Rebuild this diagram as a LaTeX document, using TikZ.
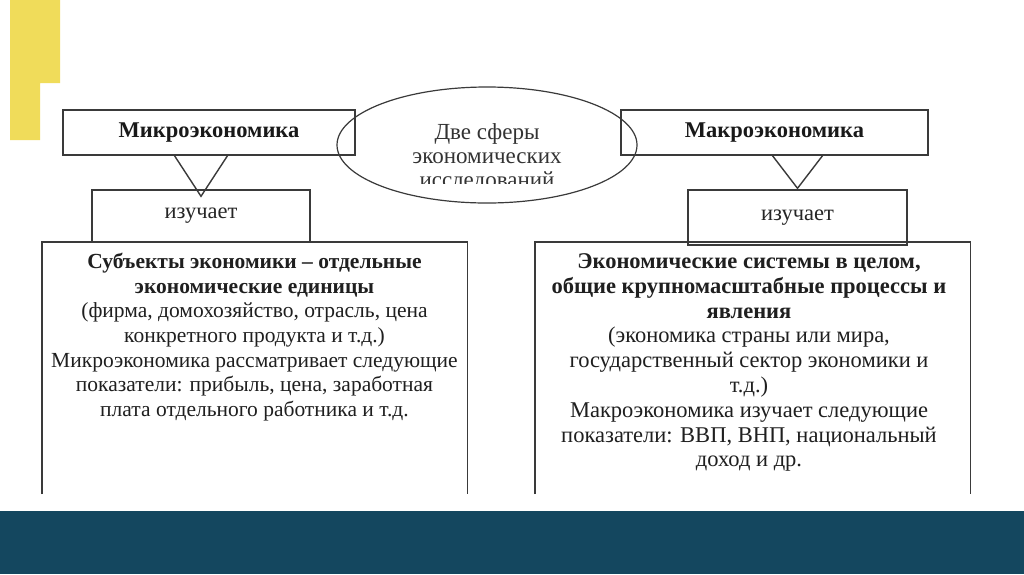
\documentclass[tikz,border=0pt]{standalone}
\usepackage{fontspec}
\setmainfont{Liberation Serif}
\usetikzlibrary{shapes.geometric,positioning,calc}

\definecolor{bandblue}{HTML}{14475F}
\definecolor{slideyellow}{HTML}{F0DC5A}
\definecolor{framegray}{HTML}{3A3A3A}

\tikzset{
    framebox/.style={draw=framegray, line width=1.4pt, rectangle, inner sep=0pt},
    headbox/.style={framebox, minimum height=45pt, text=black!90,
                    font=\fontsize{22.5}{26}\selectfont\bfseries},
    studybox/.style={framebox, minimum width=218pt, text=black!85,
                     font=\fontsize{22.5}{26}\selectfont},
    bodytext/.style={inner sep=0pt, align=center, text=black!88,
                     font=\fontsize{21.5}{24.7}\selectfont},
}

\begin{document}
\begin{tikzpicture}[x=1pt, y=-1pt]
    \useasboundingbox (0,0) rectangle (1024,574);
    \fill[white] (0,0) rectangle (1024,574);
    \fill[slideyellow] (10,0) -- (60,0) -- (60,83) -- (40,83) -- (40,140) -- (10,140) -- cycle;
    \fill[bandblue] (0,511) rectangle (1024,574);

    % top row
    \node[headbox, minimum width=292pt] (micro) at (209,132.5) {Микроэкономика};
    \node[headbox, minimum width=307pt] (macro) at (774.5,132.5) {Макроэкономика};
    \node[draw=framegray, line width=1.2pt, ellipse, inner sep=0pt,
          minimum width=300pt, minimum height=116pt] (spheres) at (487,145) {};
    \begin{scope}
        \clip (330,80) rectangle (645,183);
        \node[bodytext, text=black!80, font=\fontsize{23}{24}\selectfont] (spherestext) at (487,158)
            {Две сферы\\экономических\\исследований};
    \end{scope}

    % "изучает"
    \node[studybox, minimum height=52pt] (microstudy) at (201,216) {изучает};
    \node[studybox, minimum width=219pt, minimum height=55pt] (macrostudy) at (797.5,217.5) {изучает};
    \draw[framebox] ($(microstudy.north |- micro.south)+(-26.5,0)$) -- ($(microstudy.north)+(0,7)$)
        -- ($(microstudy.north |- micro.south)+(26.5,0)$);
    \draw[framebox] ($(macrostudy.north |- macro.south)+(-25,0)$) -- ($(macrostudy.north)+(0,-1)$)
        -- ($(macrostudy.north |- macro.south)+(25,0)$);

    % open boxes with the details
    \node[minimum width=425pt, minimum height=252pt, inner sep=0pt] (microbox) at (254.5,368) {};
    \node[minimum width=435pt, minimum height=252pt, inner sep=0pt] (macrobox) at (752.5,368) {};
    \draw[framebox] (microbox.south west) |- (microbox.north east) -- (microbox.south east);
    \draw[framebox] (macrobox.south west) |- (macrobox.north east) -- (macrobox.south east);

    \node[bodytext, below=11pt of microbox.north] (microtext) {%
        \textbf{Субъекты экономики – отдельные}\\
        \textbf{экономические единицы}\\
        (фирма, домохозяйство, отрасль, цена\\
        конкретного продукта и т.д.)\\
        Микроэкономика рассматривает следующие\\
        показатели: прибыль, цена, заработная\\
        плата отдельного работника и т.д.};
    \node[bodytext, font=\fontsize{22.5}{24.8}\selectfont, below=11.5pt of macrobox.north,
          xshift=-3.5pt] (macrotext) {%
        \textbf{Экономические системы в целом,}\\
        \textbf{общие крупномасштабные процессы и}\\
        \textbf{явления}\\
        (экономика страны или мира,\\
        государственный сектор экономики и\\
        т.д.)\\
        Макроэкономика изучает следующие\\
        показатели: ВВП, ВНП, национальный\\
        доход и др.};
\end{tikzpicture}
\end{document}
